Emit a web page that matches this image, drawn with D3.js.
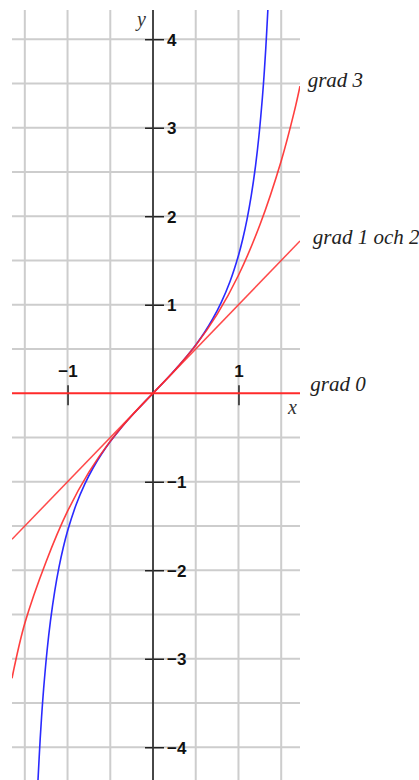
<!DOCTYPE html>
<html>
<head>
<meta charset="utf-8">
<script src="https://cdn.jsdelivr.net/npm/d3@7/dist/d3.min.js"></script>
<style>
  html, body { margin: 0; padding: 0; background: #fff; }
  svg { display: block; }
</style>
</head>
<body>
<svg id="chart" width="419" height="780"></svg>
<script>
// tan(x) and its Taylor polynomials around 0
const tanX = [-1.346, -1.32, -1.3, -1.28, -1.24, -1.2, -1.15, -1.1, -1.05, -1.0, -0.9, -0.8, -0.7, -0.6, -0.5, -0.4, -0.3, -0.2, -0.1, 0,
              0.1, 0.2, 0.3, 0.4, 0.5, 0.6, 0.7, 0.8, 0.9, 1.0, 1.05, 1.1, 1.15, 1.2, 1.24, 1.28, 1.3, 1.32, 1.344];
const tanY = [-4.373, -3.903, -3.602, -3.341, -2.912, -2.572, -2.235, -1.965, -1.743, -1.557, -1.260, -1.030, -0.842, -0.684, -0.546, -0.423, -0.309, -0.203, -0.100, 0,
              0.100, 0.203, 0.309, 0.423, 0.546, 0.684, 0.842, 1.030, 1.260, 1.557, 1.743, 1.965, 2.235, 2.572, 2.912, 3.341, 3.602, 3.903, 4.333];

const grad0X = [-1.65, 1.72];
const grad0Y = [0, 0];
const grad1X = [-1.65, 1.72];
const grad1Y = [-1.65, 1.72];
const grad3X = [-1.65, -1.5, -1.25, -1.0, -0.75, -0.5, -0.25, 0, 0.25, 0.5, 0.75, 1.0, 1.25, 1.5, 1.65, 1.72];
const grad3Y = [-3.22, -2.6, -1.901, -1.333, -0.891, -0.542, -0.255, 0, 0.255, 0.542, 0.891, 1.333, 1.901, 2.625, 3.17, 3.47];

const gridX = [-1.5, -1, -0.5, 0.5, 1, 1.5];
const gridY = [-4, -3.5, -3, -2.5, -2, -1.5, -1, -0.5, 0.5, 1, 1.5, 2, 2.5, 3, 3.5, 4];
const xTicks = [-1, 1];
const yTicks = [-4, -3, -2, -1, 1, 2, 3, 4];

const curveLabels = [
  { text: "grad 3", x: 1.81, y: 3.46 },
  { text: "grad 1 och 2", x: 1.87, y: 1.69 },
  { text: "grad 0", x: 1.84, y: 0.02 }
];

const fmt = v => (v < 0 ? "\u2212" : "") + Math.abs(v);

const svg = d3.select("#chart");
const x = d3.scaleLinear().domain([-1.65, 1.72]).range([12, 300]);
const y = d3.scaleLinear().domain([-4.37, 4.33]).range([780, 10]);

svg.append("defs").append("clipPath").attr("id", "plot")
  .append("rect").attr("x", 12).attr("y", 10).attr("width", 288).attr("height", 770);

// grid
const grid = svg.append("g").attr("stroke", "#cdcdcd").attr("stroke-width", 2);
grid.selectAll("line.v").data(gridX).join("line").attr("class", "v")
  .attr("x1", d => x(d)).attr("x2", d => x(d)).attr("y1", 10).attr("y2", 780);
grid.selectAll("line.h").data(gridY).join("line").attr("class", "h")
  .attr("x1", 12).attr("x2", 300).attr("y1", d => y(d)).attr("y2", d => y(d));

const tickFont = "bold 17px 'Liberation Sans', Arial, sans-serif";

// y axis with ticks crossing it
const yAxis = svg.append("g").attr("transform", `translate(${x(0)},0)`)
  .call(d3.axisRight(y).tickValues(yTicks).tickSize(11).tickFormat(fmt));
yAxis.select(".domain").remove();
yAxis.selectAll(".tick line").attr("x1", -8).attr("stroke", "#222").attr("stroke-width", 1.5);
yAxis.selectAll(".tick text").attr("x", 14).attr("dy", "0.36em")
  .attr("fill", "#111").style("font", tickFont);
svg.append("line").attr("x1", x(0)).attr("x2", x(0)).attr("y1", 10).attr("y2", 780)
  .attr("stroke", "#333").attr("stroke-width", 1.8);

// x axis ticks with labels above
const xAxis = svg.append("g").attr("transform", `translate(0,${y(0)})`)
  .call(d3.axisTop(x).tickValues(xTicks).tickSize(8).tickFormat(fmt));
xAxis.select(".domain").remove();
xAxis.selectAll(".tick line").attr("y2", 12).attr("y1", -8).attr("stroke", "#222").attr("stroke-width", 1.5);
xAxis.selectAll(".tick text").attr("y", -16)
  .attr("fill", "#111").style("font", tickFont);

const plot = svg.append("g").attr("clip-path", "url(#plot)");
const line = d3.line().x(d => x(d[0])).y(d => y(d[1]));
const smooth = d3.line().x(d => x(d[0])).y(d => y(d[1])).curve(d3.curveCatmullRom.alpha(0.5));

plot.append("path").datum(d3.zip(tanX, tanY)).attr("d", smooth)
  .attr("fill", "none").attr("stroke", "#2a2aff").attr("stroke-width", 1.6);

const red = "#ff2a2a";
plot.append("path").datum(d3.zip(grad0X, grad0Y)).attr("d", line)
  .attr("fill", "none").attr("stroke", red).attr("stroke-width", 1.8);
plot.append("path").datum(d3.zip(grad1X, grad1Y)).attr("d", line)
  .attr("fill", "none").attr("stroke", red).attr("stroke-width", 1.5).attr("opacity", 0.85);
plot.append("path").datum(d3.zip(grad3X, grad3Y)).attr("d", smooth)
  .attr("fill", "none").attr("stroke", red).attr("stroke-width", 1.6).attr("opacity", 0.9);

// axis names
const serifItalic = "italic 20px 'Liberation Serif', 'Times New Roman', serif";
svg.append("text").attr("x", x(0) - 16).attr("y", 26).text("y")
  .attr("fill", "#333").style("font", serifItalic);
svg.append("text").attr("x", 288).attr("y", 414).text("x")
  .attr("fill", "#333").style("font", serifItalic);

// curve labels
svg.selectAll("text.lbl").data(curveLabels).join("text").attr("class", "lbl")
  .attr("x", d => x(d.x)).attr("y", d => y(d.y)).text(d => d.text)
  .attr("fill", "#222").style("font", "italic 21px 'Liberation Serif', 'Times New Roman', serif");
</script>
</body>
</html>
